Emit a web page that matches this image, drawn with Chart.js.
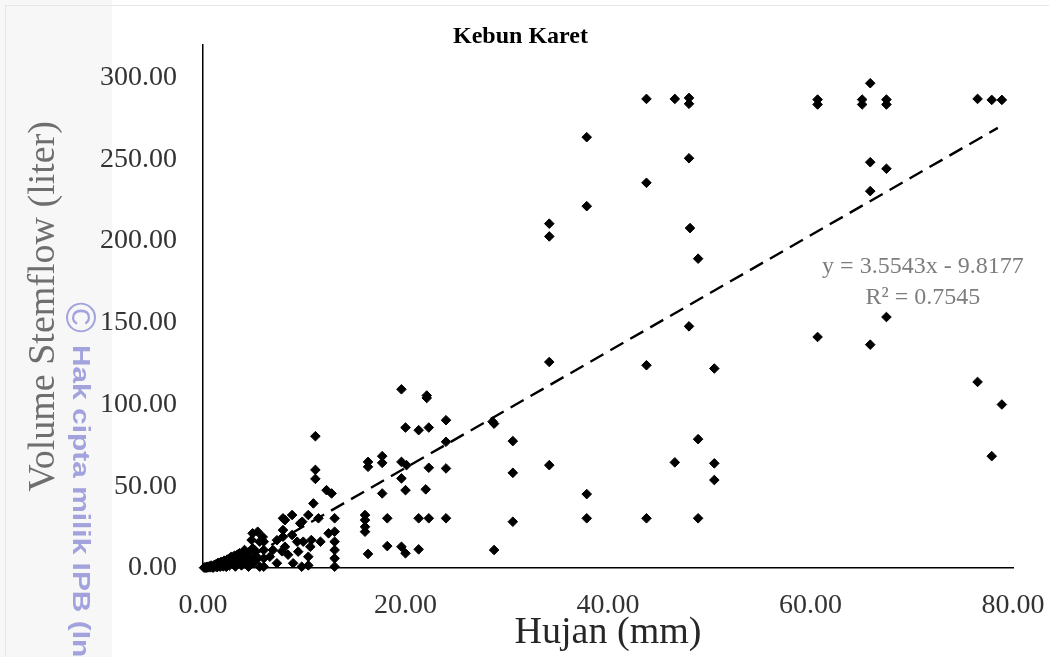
<!DOCTYPE html>
<html>
<head>
<meta charset="utf-8">
<script src="https://cdn.jsdelivr.net/npm/chart.js@4"></script>
<style>
  html, body { margin: 0; padding: 0; }
  body {
    width: 1049px; height: 657px; overflow: hidden;
    background: linear-gradient(to right, #f7f7f7 0, #f7f7f7 112px, #ffffff 112px);
  }
  #wrap { position: relative; width: 1049px; height: 657px; }
  #frame { position: absolute; left: 5px; top: 5px; right: -10px; bottom: -10px; border: 1px solid #e6e6e6; }
</style>
</head>
<body>
<div id="wrap">
  <div id="frame"></div>
  <canvas id="chart" width="1049" height="657"></canvas>
</div>
<script>
// rainfall (mm) and stemflow volume (liter)
const hujan = [
  0.1, 0.2, 0.3, 0.4, 0.5, 0.6, 0.7, 0.8, 0.9, 1.0,
  1.1, 1.2, 1.3, 1.4, 1.5, 1.6, 1.7, 1.8, 1.9, 2.0,
  2.1, 2.2, 2.3, 2.4, 2.5, 2.6, 2.7, 2.8, 2.9, 3.0,
  3.1, 3.2, 3.3, 3.4, 3.5, 3.6, 3.7, 3.8, 3.9, 4.0,
  4.1, 4.2, 4.3, 4.5, 4.5, 4.6, 4.8, 4.9, 4.9, 5.0,
  5.1, 5.2, 5.4, 5.4, 5.6, 5.6, 5.9, 6.0, 6.0, 6.0, 6.0,
  6.6, 6.9, 7.3, 7.3, 7.8, 7.9, 7.9, 7.9, 8.1, 8.1, 8.4,
  8.8, 8.8, 8.9, 9.3, 9.4, 9.6, 9.75, 9.8, 9.9,
  10.4, 10.4, 10.4, 10.6, 10.7, 10.9, 11.1, 11.1, 11.1, 11.4, 11.6,
  12.2, 12.4, 12.7, 13.0, 13.0, 13.0, 13.0, 13.0, 13.0,
  16.0, 16.0, 16.0, 16.0, 16.3, 16.3, 16.3, 17.7, 17.7, 17.7, 18.2, 18.2,
  19.6, 19.6, 19.6, 19.6, 20.0, 20.0, 20.0, 20.1, 21.3, 21.3, 21.3,
  22.0, 22.1, 22.1, 22.3, 22.3, 22.3, 24.0, 24.0, 24.0, 24.0,
  28.6, 28.75, 28.75, 30.6, 30.6, 30.6,
  34.2, 34.2, 34.2, 34.2, 37.9, 37.9, 37.9, 37.9,
  43.8, 43.8, 43.8, 43.8, 46.6, 46.6,
  48.0, 48.0, 48.0, 48.0, 48.1, 48.9, 48.9, 48.9, 50.5, 50.5, 50.5,
  60.7, 60.7, 60.7, 65.1, 65.1, 65.9, 65.9, 65.9, 65.9,
  67.5, 67.5, 67.5, 67.5, 76.5, 76.5, 77.9, 77.9, 78.9, 78.9
];
const volume = [
  0.2, 0.5, 0.1, 0.8, 0.3, 1.0, 0.4, 1.5, 0.6, 0.2,
  1.8, 0.9, 2.4, 0.5, 3.2, 1.5, 0.8, 3.8, 2.2, 1.0,
  4.5, 2.8, 0.7, 5.2, 3.5, 1.5, 6.0, 6.9, 4.0, 2.2,
  7.5, 0.9, 5.0, 8.2, 3.0, 9.0, 6.2, 1.6, 8.0, 4.2,
  11.0, 2.4, 7.0, 9.5, 0.8, 5.3, 17.1, 21.2, 12.0, 3.2,
  11.0, 7.5, 22.2, 5.9, 16.1, 0.8, 19.0, 16.1, 11.0, 5.9, 0.8,
  6.9, 11.0, 2.9, 17.0, 10.2, 23.2, 19.1, 30.4, 29.3, 13.0, 8.1,
  32.4, 20.2, 2.9, 16.1, 10.0, 27.3, 0.8, 28.3, 16.1,
  32.4, 6.9, 1.6, 13.0, 17.1, 39.5, 80.6, 60.0, 54.5, 30.4, 16.1,
  47.6, 21.2, 45.6, 30.4, 22.2, 16.1, 11.0, 5.9, 0.8,
  32.4, 29.3, 25.2, 22.2, 64.9, 61.9, 8.6, 68.4, 64.3, 45.6, 30.4, 13.4,
  109.3, 64.9, 54.8, 13.0, 85.9, 47.6, 9.0, 62.9, 84.3, 30.4, 11.4,
  48.1, 105.5, 104.0, 85.9, 61.3, 30.4, 90.4, 77.2, 60.9, 30.4,
  89.5, 88.3, 11.0, 77.6, 58.2, 28.3,
  210.6, 202.8, 126.0, 62.9, 263.5, 221.3, 45.2, 30.4,
  286.9, 235.6, 124.0, 30.4, 286.9, 64.6,
  287.5, 283.9, 250.6, 147.8, 207.9, 189.2, 78.8, 30.4, 122.0, 64.0, 53.8,
  286.5, 283.5, 141.3, 286.5, 283.5, 296.5, 248.2, 230.5, 136.6,
  286.5, 283.5, 244.2, 153.5, 286.9, 113.8, 286.3, 68.4, 286.3, 100.0
];

// dashed linear trend, end points
const trendX = [2.8, 78.5];
const trendY = [0.1, 269.2];
const trendLabel = ['y = 3.5543x - 9.8177', 'R\u00b2 = 0.7545'];

const xTicks = [0, 20, 40, 60, 80];
const yTicks = [0, 50, 100, 150, 200, 250, 300];

const serif = "'Liberation Serif', 'Times New Roman', serif";

const points = hujan.map((x, i) => ({ x: x, y: volume[i] }));
const trend = trendX.map((x, i) => ({ x: x, y: trendY[i] }));

// equation text next to the trend line
const eqPlugin = {
    id: 'eqText',
    afterDatasetsDraw(chart) {
        const ctx = chart.ctx;
        const xs = chart.scales.x, ys = chart.scales.y;
        ctx.save();
        ctx.font = '24px ' + serif;
        ctx.fillStyle = '#7d7d7d';
        ctx.textAlign = 'center';
        ctx.textBaseline = 'middle';
        ctx.fillText(trendLabel[0], xs.getPixelForValue(71.1), ys.getPixelForValue(184));
        ctx.fillText(trendLabel[1], xs.getPixelForValue(71.1), ys.getPixelForValue(165.5));
        ctx.restore();
    }
};

// vertical copyright watermark on the left margin
const markPlugin = {
    id: 'watermark',
    afterDraw(chart) {
        const ctx = chart.ctx;
        ctx.save();
        ctx.translate(79, 302);
        ctx.rotate(Math.PI / 2);
        ctx.fillStyle = 'rgba(125, 125, 210, 0.7)';
        ctx.textBaseline = 'middle';
        ctx.font = '42px "Liberation Sans", Arial, sans-serif';
        ctx.fillText('\u00a9', 0, 1);
        ctx.scale(1.3, 1);
        ctx.font = 'bold 23px "Liberation Sans", Arial, sans-serif';
        ctx.fillText('Hak cipta milik IPB (Institut Pertanian Bogor)', 33, 0);
        ctx.restore();
    }
};

new Chart(document.getElementById('chart'), {
    type: 'scatter',
    data: {
        datasets: [
            {
                label: 'Stemflow',
                data: points,
                pointStyle: 'rectRot',
                pointRadius: 4.8,
                pointHoverRadius: 4.8,
                backgroundColor: '#000',
                borderColor: '#000',
                borderWidth: 1,
                clip: 8,
                order: 1
            },
            {
                type: 'line',
                label: 'Linear',
                data: trend,
                borderColor: '#000',
                borderWidth: 2.4,
                borderDash: [15, 8],
                pointRadius: 0,
                fill: false,
                order: 2
            }
        ]
    },
    options: {
        responsive: false,
        animation: false,
        layout: { padding: { left: 28, right: 36, top: 0, bottom: 0 } },
        plugins: {
            legend: { display: false },
            tooltip: { enabled: false },
            title: {
                display: true,
                text: 'Kebun Karet',
                color: '#000',
                font: { family: serif, size: 24, weight: 'bold', lineHeight: 1.2 },
                padding: { top: 22, bottom: -6 }
            }
        },
        scales: {
            x: {
                type: 'linear',
                min: 0,
                max: 80,
                afterBuildTicks: s => { s.ticks = xTicks.map(v => ({ value: v })); },
                afterFit: s => { s.height = 89; s.paddingLeft = 0; s.paddingRight = 0; },
                grid: { display: false, drawTicks: false },
                border: { display: true, color: '#000', width: 1.5 },
                ticks: {
                    color: '#333',
                    padding: 21,
                    font: { family: serif, size: 28 },
                    callback: v => v.toFixed(2)
                },
                title: {
                    display: true,
                    text: 'Hujan (mm)',
                    color: '#262626',
                    font: { family: serif, size: 38, lineHeight: 1.2 },
                    padding: { top: 0, bottom: 1 }
                }
            },
            y: {
                type: 'linear',
                min: 0,
                max: 320,
                afterBuildTicks: s => { s.ticks = yTicks.map(v => ({ value: v })); },
                afterFit: s => { s.width = 175; s.paddingTop = 0; s.paddingBottom = 0; },
                grid: { display: false, drawTicks: false },
                border: { display: true, color: '#000', width: 1.5 },
                ticks: {
                    color: '#333',
                    padding: 26,
                    font: { family: serif, size: 28 },
                    callback: v => v.toFixed(2)
                },
                title: {
                    display: true,
                    text: 'Volume Stemflow (liter)',
                    color: '#6e6e6e',
                    font: { family: serif, size: 38, lineHeight: 1 },
                    padding: { top: -3, bottom: 0 }
                }
            }
        }
    },
    plugins: [eqPlugin, markPlugin]
});
</script>
</body>
</html>
